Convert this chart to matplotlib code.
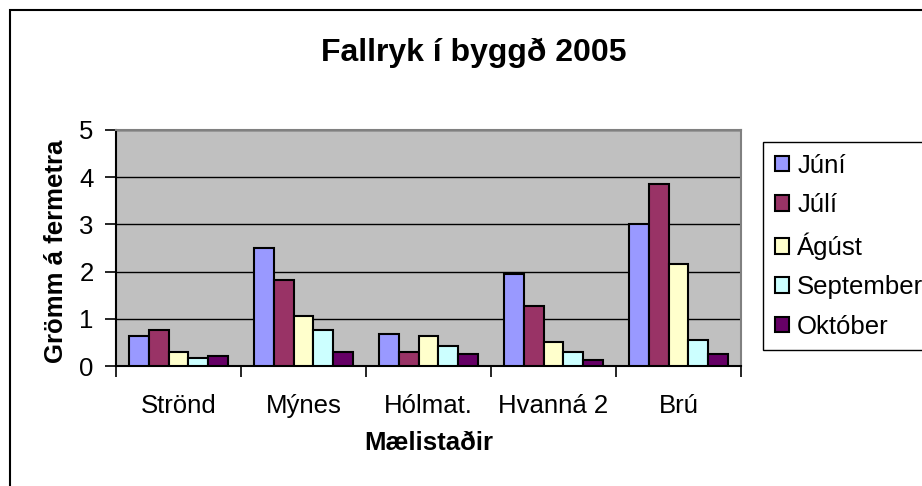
import matplotlib
matplotlib.use("Agg")
import matplotlib.pyplot as plt
from matplotlib.patches import Rectangle
import numpy as np

plt.rcParams['font.family'] = ['Liberation Sans', 'DejaVu Sans']

sites = ["Strönd", "Mýnes", "Hólmat.", "Hvanná 2", "Brú"]
months = ["Júní", "Júlí", "Ágúst", "September", "Október"]
juni = [0.64, 2.51, 0.67, 1.95, 3.00]
juli = [0.76, 1.82, 0.30, 1.27, 3.86]
agust = [0.30, 1.06, 0.64, 0.51, 2.16]
september = [0.17, 0.76, 0.42, 0.30, 0.55]
oktober = [0.21, 0.30, 0.25, 0.13, 0.25]
series = [juni, juli, agust, september, oktober]
colors = ["#9999FF", "#993366", "#FFFFCC", "#CCFFFF", "#660066"]
yticks = [0, 1, 2, 3, 4, 5]

W, H = 922, 486
fig = plt.figure(figsize=(W / 100, H / 100), dpi=100)
fx = lambda x: x / W
fy = lambda y: 1 - y / H

# outer chart border (extends beyond the right and bottom of the picture)
fig.add_artist(Rectangle((fx(9.5), -0.1), 2, fy(10) + 0.1, transform=fig.transFigure,
                         fill=False, edgecolor="black", linewidth=1.5, clip_on=False))

ax = fig.add_axes([fx(116), fy(366), fx(741) - fx(116), fy(130) - fy(366)])
ax.set_facecolor("#C0C0C0")

x = np.arange(len(sites))
w = 0.157
for i, (vals, c, m) in enumerate(zip(series, colors, months)):
    ax.bar(x + (i - 2) * w, vals, width=w, color=c, edgecolor="black",
           linewidth=1.5, label=m, zorder=3)

ax.set_xlim(-0.5, len(sites) - 0.5)
ax.set_ylim(0, 5)
ax.set_yticks(yticks)
ax.set_yticklabels([str(t) for t in yticks])
ax.yaxis.grid(True, color="black", linewidth=1.0, zorder=1)
ax.set_axisbelow(True)

ax.set_xticks(np.arange(len(sites) + 1) - 0.5)
ax.set_xticklabels([])
ax.set_xticks(x, minor=True)
ax.set_xticklabels(sites, minor=True, fontsize=18.5)
ax.tick_params(axis="x", which="major", length=8, width=1.2, color="black", direction="out")
ax.tick_params(axis="x", which="minor", length=0, pad=20)
ax.tick_params(axis="y", length=8, width=1.2, color="black", direction="out", labelsize=18.5, pad=8)

for s in ["left", "bottom"]:
    ax.spines[s].set_color("black")
    ax.spines[s].set_linewidth(1.5)
for s in ["top", "right"]:
    ax.spines[s].set_color("#808080")
    ax.spines[s].set_linewidth(1.5)

fig.text(fx(473.5), fy(60.7), "Fallryk í byggð 2005", fontsize=23, fontweight="bold",
         ha="center", va="baseline")
fig.text(fx(428.5), fy(450), "Mælistaðir", fontsize=18.5, fontweight="bold",
         ha="center", va="baseline")
fig.text(fx(62.7), fy(251.5), "Grömm á fermetra", fontsize=18.5, fontweight="bold",
         rotation=90, rotation_mode="anchor", ha="center", va="baseline")

leg = ax.legend(loc="upper left", bbox_to_anchor=(fx(763), fy(142)),
                bbox_transform=fig.transFigure, borderaxespad=0, fontsize=18.5,
                handlelength=0.56, handleheight=0.56, handletextpad=0.32,
                labelspacing=0.6, borderpad=0.45, fancybox=False, framealpha=1,
                edgecolor="black")
leg.get_frame().set_linewidth(1.0)
leg.set_clip_on(False)

fig.savefig("out.png", dpi=100)
